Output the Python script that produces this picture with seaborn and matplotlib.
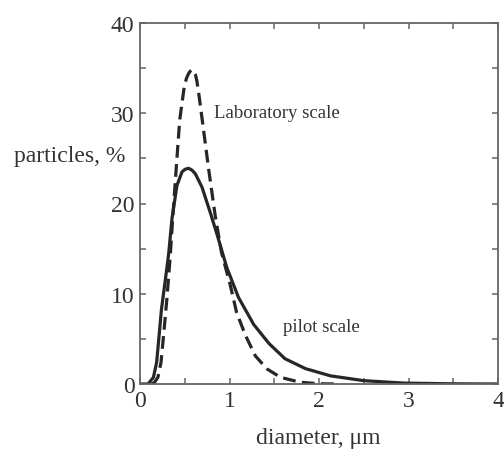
import matplotlib
matplotlib.use("Agg")
import matplotlib.pyplot as plt
import seaborn as sns
import pandas as pd
from matplotlib.ticker import MultipleLocator, FuncFormatter

# ---- data ----
pilot_x = [0, 0.09, 0.15, 0.186, 0.21, 0.24, 0.28, 0.32, 0.357, 0.413, 0.469,
           0.505, 0.543, 0.58, 0.618, 0.693, 0.785, 0.86, 0.97, 1.1, 1.27,
           1.44, 1.62, 1.85, 2.13, 2.5, 2.95, 3.5, 4.0]
pilot_y = [0, 0, 0.74, 2.4, 5.0, 8.3, 11.3, 14.4, 18.3, 22.0, 23.5,
           23.8, 23.9, 23.7, 23.3, 21.8, 19.0, 16.6, 12.9, 9.6, 6.6,
           4.5, 2.8, 1.7, 0.9, 0.37, 0.1, 0.02, 0]
lab_x = [0.13, 0.16, 0.2, 0.235, 0.27, 0.30, 0.335, 0.365, 0.394, 0.443, 0.495,
         0.52, 0.543, 0.56, 0.58, 0.60, 0.618, 0.635, 0.655, 0.704, 0.767, 0.841,
         0.91, 1.01, 1.08, 1.18, 1.29, 1.42, 1.57, 1.79, 2.0, 2.2]
lab_y = [0, 0.15, 0.74, 2.4, 6.1, 9.4, 13.8, 18.3, 22.4, 29.2, 33.0,
         33.9, 34.4, 34.65, 34.8, 34.7, 34.35, 33.6, 32.3, 28.6, 23.8, 18.6,
         14.6, 10.9, 7.9, 5.35, 3.1, 1.66, 0.74, 0.19, 0.03, 0]
series_labels = ["Laboratory scale", "pilot scale"]
x_label = "diameter, μm"
y_label = "particles, %"

sns.set_theme(style="ticks")
plt.rcParams["font.family"] = ["Liberation Serif", "DejaVu Serif"]

fig = plt.figure(figsize=(5.04, 4.56), dpi=100)
ax = fig.add_axes([140/504, (456-385)/456, (498-140)/504, (385-24)/456])

line_col = "#262626"
pilot_df = pd.DataFrame({"x": pilot_x, "y": pilot_y})
lab_df = pd.DataFrame({"x": lab_x, "y": lab_y})
sns.lineplot(data=pilot_df, x="x", y="y", ax=ax, color=line_col, lw=2.3,
             sort=False, estimator=None)
sns.lineplot(data=lab_df, x="x", y="y", ax=ax, color=line_col, lw=2.3,
             sort=False, estimator=None, linestyle=(0, (4, 2)))

ax.set_xlim(0, 4)
ax.set_ylim(0, 40)
ax.xaxis.set_major_locator(MultipleLocator(1))
ax.xaxis.set_minor_locator(MultipleLocator(0.5))
ax.yaxis.set_major_locator(MultipleLocator(10))
ax.yaxis.set_minor_locator(MultipleLocator(5))
ax.xaxis.set_major_formatter(FuncFormatter(lambda v, p: f"{int(round(v))}"))
ax.yaxis.set_major_formatter(FuncFormatter(lambda v, p: f"{int(round(v))}"))

spine_col = "#666666"
for s in ax.spines.values():
    s.set_color(spine_col)
    s.set_linewidth(1.3)
ax.tick_params(which="both", direction="in", top=True, right=True, length=4,
               width=1.1, color=spine_col, labelsize=17, labelcolor="#333333", pad=4)

ax.set_xlabel(x_label, fontsize=17, color="#333333")
ax.xaxis.set_label_coords(0.497, -0.147)
ax.xaxis.label.set_verticalalignment("center")
ax.set_ylabel(y_label, fontsize=17, color="#333333", rotation=0)
ax.yaxis.set_label_coords(-0.196, 0.634)
ax.yaxis.label.set_horizontalalignment("center")
ax.yaxis.label.set_verticalalignment("center")

ax.text(0.83, 30.1, series_labels[0], fontsize=13.5, color="#333333",
        ha="left", va="center")
ax.text(1.60, 6.4, series_labels[1], fontsize=13.5, color="#333333",
        ha="left", va="center")

fig.savefig("out.png", dpi=100)
